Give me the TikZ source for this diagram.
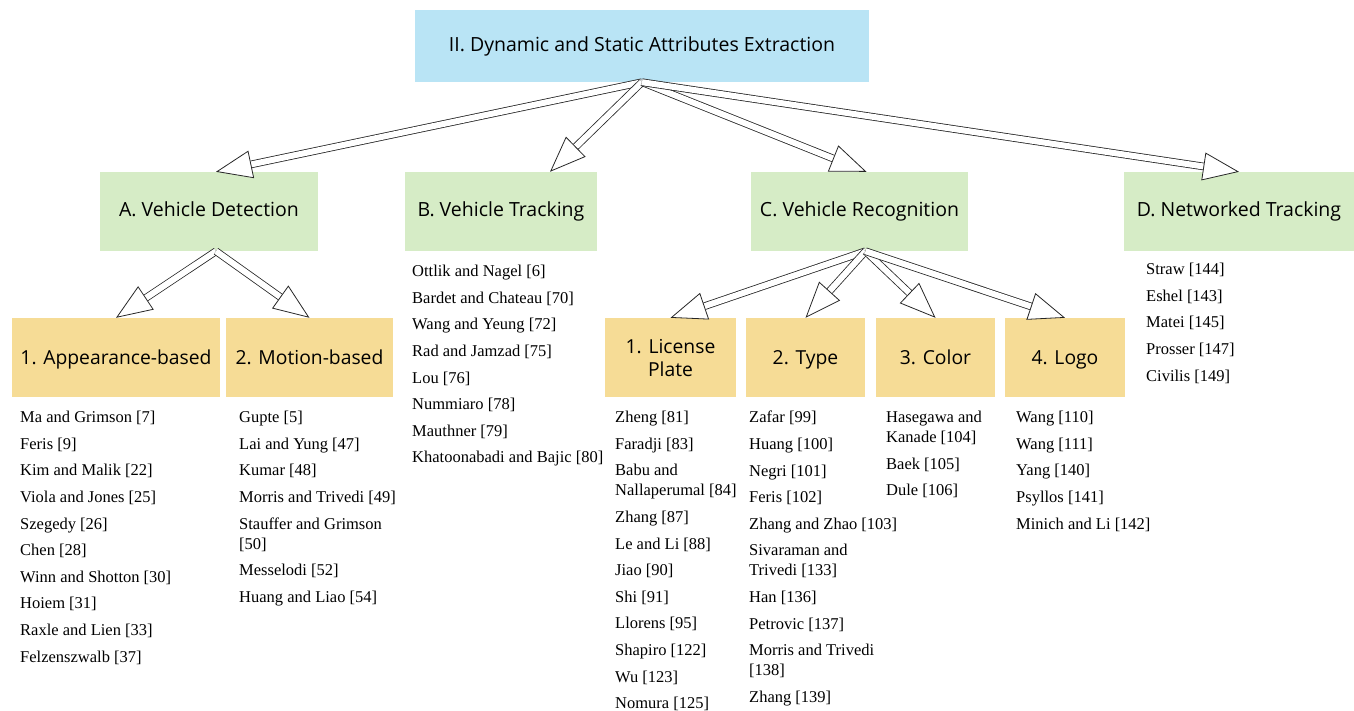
\documentclass[tikz,border=0pt]{standalone}
\usepackage{fontspec}
\setmainfont{Open Sans}
\newfontfamily\timesfont{Liberation Serif}
\usetikzlibrary{arrows.meta}
\definecolor{topblue}{RGB}{185,228,245}
\definecolor{secgreen}{RGB}{214,236,198}
\definecolor{subyellow}{RGB}{246,220,150}
\tikzset{
  section/.style={fill=secgreen, minimum height=79pt, inner sep=0pt, text height=15pt, text depth=4pt, font=\fontsize{19.5}{23}\selectfont},
  subsection/.style={fill=subyellow, minimum height=79pt, inner sep=0pt, align=center, text height=18pt, text depth=4pt, font=\fontsize{19.3}{23}\selectfont},
  refs/.style={anchor=north west, inner sep=0pt, align=left, font=\timesfont\fontsize{16.5}{26.6}\selectfont},
  fat/.style={draw=black!85, line width=0.8pt, double=white, double distance=6pt,
    -{Triangle[length=36pt, width=28pt, fill=white, line width=0.8pt]}}
}
\begin{document}
\begin{tikzpicture}[x=1pt, y=-1pt]
  \useasboundingbox (0,0) rectangle (1354,711);
  \node[fill=topblue, minimum width=454pt, minimum height=72pt, inner sep=0pt, font=\fontsize{19.5}{23}\selectfont] (dsae) at (642,46) {II. Dynamic and Static Attributes Extraction};

  \node[section, minimum width=218pt] (det) at (209,211.5) {A. Vehicle Detection};
  \node[section, minimum width=192pt] (trk) at (501,211.5) {B. Vehicle Tracking};
  \node[section, minimum width=217pt] (rec) at (859.5,211.5) {C. Vehicle Recognition};
  \node[section, minimum width=230pt] (net) at (1239,211.5) {D. Networked Tracking};

  \node[subsection, minimum width=208pt] (app) at (116,357.5) {1. Appearance-based};
  \node[subsection, minimum width=167pt] (mot) at (309.5,357.5) {2. Motion-based};
  \node[subsection, minimum width=131pt, text height=41pt] (lic) at (670.5,357.5) {1. License\\Plate};
  \node[subsection, minimum width=119pt] (typ) at (805.5,357.5) {2. Type};
  \node[subsection, minimum width=119pt] (col) at (935.5,357.5) {3. Color};
  \node[subsection, minimum width=120pt] (logo) at (1065,357.5) {4. Logo};

  \node[refs] (app-refs) at (20,411) {Ma and Grimson [7]\\Feris [9]\\Kim and Malik [22]\\Viola and Jones [25]\\Szegedy [26]\\Chen [28]\\Winn and Shotton [30]\\Hoiem [31]\\Raxle and Lien [33]\\Felzenszwalb [37]};
  \node[refs] (mot-refs) at (239,411) {Gupte [5]\\Lai and Yung [47]\\Kumar [48]\\Morris and Trivedi [49]\\Stauffer and Grimson\\[-6.6pt][50]\\Messelodi [52]\\Huang and Liao [54]};
  \node[refs] (trk-refs) at (412,265) {Ottlik and Nagel [6]\\Bardet and Chateau [70]\\Wang and Yeung [72]\\Rad and Jamzad [75]\\Lou [76]\\Nummiaro [78]\\Mauthner [79]\\Khatoonabadi and Bajic [80]};
  \node[refs] (lic-refs) at (615,411) {Zheng [81]\\Faradji [83]\\Babu and\\[-6.6pt]Nallaperumal [84]\\Zhang [87]\\Le and Li [88]\\Jiao [90]\\Shi [91]\\Llorens [95]\\Shapiro [122]\\Wu [123]\\Nomura [125]};
  \node[refs] (typ-refs) at (749,411) {Zafar [99]\\Huang [100]\\Negri [101]\\Feris [102]\\Zhang and Zhao [103]\\Sivaraman and\\[-6.6pt]Trivedi [133]\\Han [136]\\Petrovic [137]\\Morris and Trivedi\\[-6.6pt][138]\\Zhang [139]};
  \node[refs] (col-refs) at (886,411) {Hasegawa and\\[-6.6pt]Kanade [104]\\Baek [105]\\Dule [106]};
  \node[refs] (logo-refs) at (1016,411) {Wang [110]\\Wang [111]\\Yang [140]\\Psyllos [141]\\Minich and Li [142]};
  \node[refs] (net-refs) at (1146,263) {Straw [144]\\Eshel [143]\\Matei [145]\\Prosser [147]\\Civilis [149]};

  \draw[fat] (dsae.south) -- ([xshift=7pt]det.north);
  \draw[fat] (dsae.south) -- ([xshift=49pt]trk.north);
  \draw[fat] (dsae.south) -- ([xshift=7pt]rec.north);
  \draw[fat] (dsae.south) -- (net.north);
  \draw[fat] ([xshift=7pt]det.south) -- (app.north);
  \draw[fat] ([xshift=7pt]det.south) -- (mot.north);
  \draw[fat] ([xshift=6pt]rec.south) -- (lic.north);
  \draw[fat] ([xshift=6pt]rec.south) -- (typ.north);
  \draw[fat] ([xshift=6pt]rec.south) -- (col.north);
  \draw[fat] ([xshift=6pt]rec.south) -- (logo.north);
\end{tikzpicture}
\end{document}
